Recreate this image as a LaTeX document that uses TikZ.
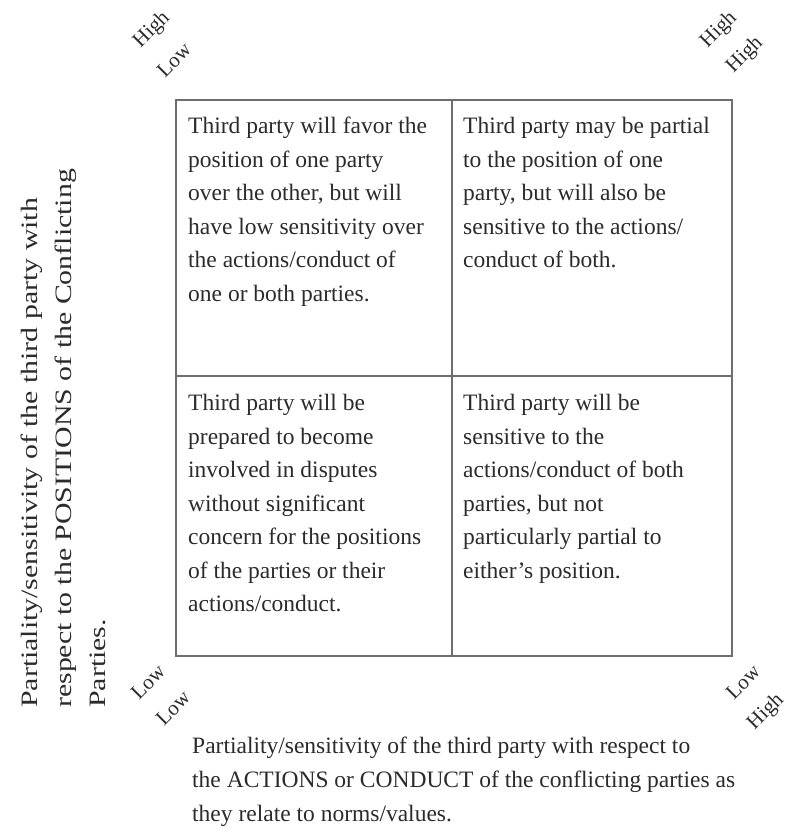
\documentclass[tikz,border=0pt]{standalone}
\usepackage{fontspec}
\setmainfont{Liberation Serif}
\definecolor{txt}{HTML}{2B2B2B}
\definecolor{gridc}{HTML}{6E6E6E}
\begin{document}
\begin{tikzpicture}[x=1pt,y=-1pt,
  gridline/.style={draw=gridc,line width=1.5pt},
  celltext/.style={anchor=north west,inner sep=0pt,align=left,text=txt,
    font=\fontsize{23.5}{33.5}\selectfont},
  axistext/.style={inner sep=0pt,align=left,text=txt,
    font=\fontsize{23.5}{34}\selectfont},
  corner/.style={inner sep=0pt,rotate=45,text=txt,font=\fontsize{21}{24}\selectfont}]
\useasboundingbox (0,0) rectangle (786,828);
% grid
\node[gridline,rectangle,minimum width=556pt,minimum height=556pt,inner sep=0pt,anchor=north west] (box) at (175,99) {};
\coordinate (vt) at (452,99);
\coordinate (vb) at (452,655);
\coordinate (hl) at (175,376);
\coordinate (hr) at (731,376);
\draw[gridline] (vt) -- (vb);
\draw[gridline] (hl) -- (hr);
% cell texts
\node[celltext] (tl) at (188,117) {Third party will favor the\\position of one party\\over the other, but will\\have low sensitivity over\\the actions/conduct of\\one or both parties.};
\node[celltext] (tr) at (463,117) {Third party may be partial\\to the position of one\\party, but will also be\\sensitive to the actions/\\conduct of both.};
\node[celltext] (bl) at (188,394) {Third party will be\\prepared to become\\involved in disputes\\without significant\\concern for the positions\\of the parties or their\\actions/conduct.};
\node[celltext] (br) at (463,394) {Third party will be\\sensitive to the\\actions/conduct of both\\parties, but not\\particularly partial to\\either's position.};
% axis labels
\node[axistext,anchor=north west] (xlab) at (192,737) {Partiality/sensitivity of the third party with respect to\\the ACTIONS or CONDUCT of the conflicting parties as\\they relate to norms/values.};
\node[axistext,rotate=90,xscale=1.27,anchor=north west] (ylab) at (21,708) {Partiality/sensitivity of the third party with\\respect to the POSITIONS of the Conflicting\\Parties.};
% corner labels
\node[corner] (c1a) at (152,30) {High};
\node[corner] (c1b) at (174,60) {Low};
\node[corner] (c2a) at (719,30) {High};
\node[corner] (c2b) at (745,55) {High};
\node[corner] (c3a) at (148,682) {Low};
\node[corner] (c3b) at (173,708) {Low};
\node[corner] (c4a) at (743,682) {Low};
\node[corner] (c4b) at (766,712) {High};
\end{tikzpicture}
\end{document}
